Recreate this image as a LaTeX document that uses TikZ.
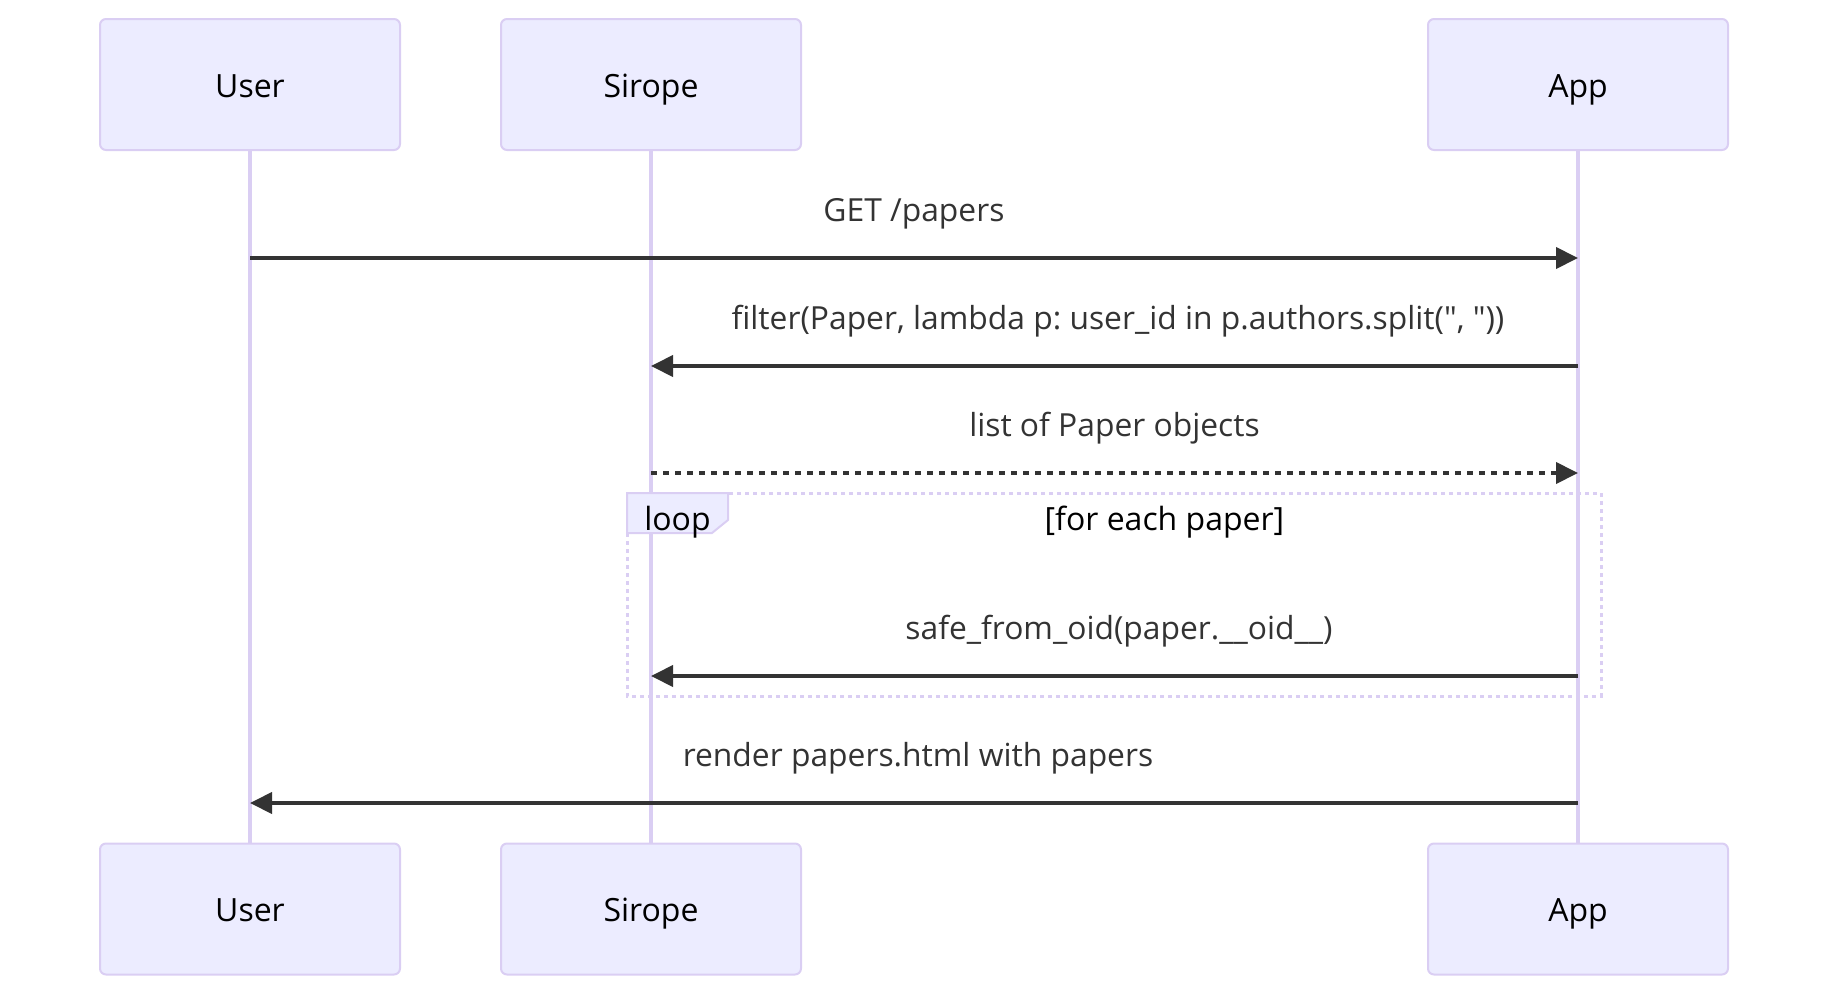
\documentclass[tikz,border=0pt]{standalone}
\usepackage{fontspec}
\setmainfont{Open Sans}[Ligatures=TeXOff]
\frenchspacing
\usetikzlibrary{arrows.meta}
\definecolor{actorfill}{HTML}{ECECFF}
\definecolor{actorborder}{HTML}{DACEF3}
\definecolor{signal}{HTML}{333333}
\tikzset{
  actorbox/.style={draw=actorborder, fill=actorfill, line width=1pt, rounded corners=3pt,
    minimum width=150pt, minimum height=65.5pt, inner sep=0pt, text=black,
    text height=12.5pt, text depth=0pt,
    font=\fontsize{16pt}{19pt}\selectfont},
  lifeline/.style={draw=actorborder, line width=1.6pt},
  msg/.style={draw=signal, line width=2pt, -{Triangle[length=11pt,width=10.5pt]}},
  msgdotted/.style={msg, dash pattern=on 3pt off 3pt},
  msgtext/.style={text=signal, inner sep=0pt, anchor=base, font=\fontsize{15.9pt}{19pt}\selectfont},
  loopborder/.style={draw=actorborder, line width=1.5pt, dash pattern=on 2pt off 2pt},
  looplabel/.style={draw=actorborder, fill=actorfill, line width=1pt},
  looptext/.style={text=black, inner sep=0pt, anchor=base, font=\fontsize{16pt}{19pt}\selectfont}
}
\begin{document}
\begin{tikzpicture}[x=0.5pt,y=-0.5pt]
\useasboundingbox (0,0) rectangle (1828,996);
% actors top
\node[actorbox] (userT) at (250,84.5) {User};
\node[actorbox] (siropeT) at (651,84.5) {Sirope};
\node[actorbox] (appT) at (1578,84.5) {App};
% actors bottom
\node[actorbox] (userB) at (250,909) {User};
\node[actorbox] (siropeB) at (651,909) {Sirope};
\node[actorbox] (appB) at (1578,909) {App};
% lifelines
\draw[lifeline] (userT.south) -- (userB.north);
\draw[lifeline] (siropeT.south) -- (siropeB.north);
\draw[lifeline] (appT.south) -- (appB.north);
% lifeline coordinates
\coordinate (u1) at (250,258);
\coordinate (a1) at (1578,258);
\coordinate (a2) at (1578,366);
\coordinate (s2) at (651,366);
\coordinate (s3) at (651,473);
\coordinate (a3) at (1578,473);
\coordinate (a4) at (1578,676);
\coordinate (s4) at (651,676);
\coordinate (a5) at (1578,803);
\coordinate (u5) at (250,803);
% loop frame
\draw[loopborder] (627,493) rectangle (1601,696);
\draw[looplabel] (627,493) -- (728,493) -- (728,520) -- (712,533) -- (627,533) -- cycle;
\node[looptext] (looplbl) at (677.5,530) {loop};
\node[looptext] (looptitle) at (1164.5,530) {[for each paper]};
% messages
\draw[msg] (u1) -- (a1);
\node[msgtext] (t1) at (914,221.5) {GET /papers};
\draw[msg] (a2) -- (s2);
\node[msgtext] (t2) at (1118,329.5) {filter(Paper, lambda p: user\_id in p.authors.split(", "))};
\draw[msgdotted] (s3) -- (a3);
\node[msgtext] (t3) at (1114.5,436.5) {list of Paper objects};
\draw[msg] (a4) -- (s4);
\node[msgtext] (t4) at (1119,639.5) {safe\_from\_oid(paper.\_\_oid\_\_)};
\draw[msg] (a5) -- (u5);
\node[msgtext] (t5) at (918,766.5) {render papers.html with papers};
\end{tikzpicture}
\end{document}
